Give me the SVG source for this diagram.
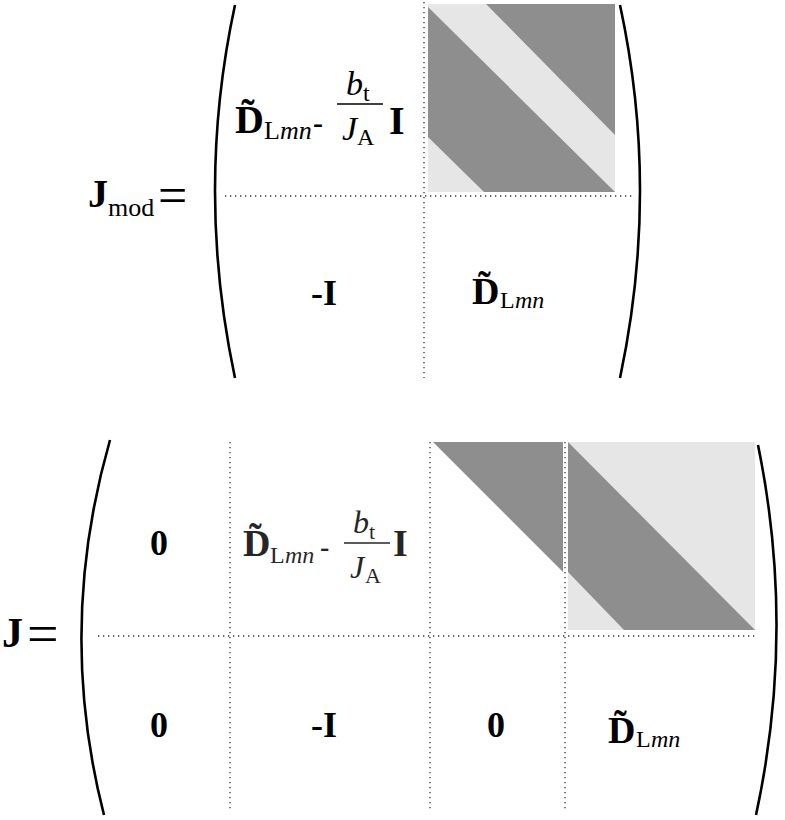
<svg xmlns="http://www.w3.org/2000/svg" width="785" height="820" viewBox="0 0 785 820">
<style>
.t{font-family:"Liberation Serif","DejaVu Serif",serif;fill:#000}
.b{font-weight:bold}
.i{font-style:italic}
.dot{stroke:#333;stroke-width:1.3;stroke-dasharray:1.3 3.7;fill:none}
.par{stroke:#000;stroke-width:2.6;fill:none}
.lt{fill:#e6e6e6}
.dk{fill:#8e8e8e}
</style>
<rect width="785" height="820" fill="#fff"/>
<g id="connectors">
<line class="dot" x1="424" y1="2" x2="424" y2="378"/>
<line class="dot" x1="225" y1="196" x2="632" y2="196"/>
<line class="dot" x1="230" y1="442" x2="230" y2="812"/>
<line class="dot" x1="430" y1="442" x2="430" y2="812"/>
<line class="dot" x1="565" y1="442" x2="565" y2="812"/>
<line class="dot" x1="98" y1="636" x2="758" y2="636"/>
</g>
<g id="parens">
<path class="par" d="M235 5 Q195 190 235 378"/>
<path class="par" d="M620 5 Q660 190 620 378"/>
<path class="par" d="M110 440 Q56 628 104 815"/>
<path class="par" d="M758 445 Q796 630 756 815"/>
</g>
<g id="block-top">
<rect class="lt" x="428" y="4" width="187" height="188"/>
<polygon class="dk" points="486,4 615,4 615,135"/>
<polygon class="dk" points="428,7 615,192 484,192 428,137"/>
</g>
<g id="block-bottom">
<polygon class="dk" points="433,442 563,442 563,572"/>
<rect class="lt" x="568" y="442" width="187" height="188"/>
<polygon class="dk" points="568,442 755,630 624,630 568,572"/>
</g>
<g id="label-jmod">
<text class="t b" x="88" y="207" font-size="40">J</text>
<text class="t" x="108" y="216" font-size="26">mod</text>
<text class="t" x="158" y="213" font-size="52">=</text>
</g>
<g id="label-j">
<text class="t b" x="2" y="647" font-size="42">J</text>
<text class="t" x="27" y="653" font-size="56">=</text>
</g>
<g id="cell-top-11">
<text class="t b" x="235" y="133" font-size="40">D&#771;</text>
<text class="t" x="264" y="139" font-size="26">L</text>
<text class="t i" x="280" y="139" font-size="26">mn</text>
<text class="t b" x="313" y="133" font-size="30">-</text>
<text class="t i" x="346" y="95" font-size="34">b</text>
<text class="t" x="363" y="101" font-size="24">t</text>
<line x1="337" y1="104" x2="383" y2="104" stroke="#000" stroke-width="1.6"/>
<text class="t i" x="342" y="140" font-size="34">J</text>
<text class="t" x="357" y="145" font-size="24">A</text>
<text class="t b" x="389" y="134" font-size="40">I</text>
</g>
<g id="cell-top-21"><text class="t b" x="311" y="305" font-size="36">-I</text></g>
<g id="cell-top-22">
<text class="t b" x="472" y="304" font-size="38">D&#771;</text>
<text class="t" x="500" y="308" font-size="24">L</text>
<text class="t i" x="515" y="308" font-size="24">mn</text>
</g>
<g id="cell-bot-11"><text class="t b" x="150" y="555" font-size="36">0</text></g>
<g id="cell-bot-12" opacity="0.85">
<text class="t b" x="243" y="556" font-size="38">D&#771;</text>
<text class="t" x="270" y="563" font-size="24">L</text>
<text class="t i" x="285" y="563" font-size="24">mn</text>
<text class="t b" x="320" y="556" font-size="28">-</text>
<text class="t i" x="353" y="533" font-size="32">b</text>
<text class="t" x="369" y="539" font-size="22">t</text>
<line x1="344" y1="543" x2="390" y2="543" stroke="#000" stroke-width="1.6"/>
<text class="t i" x="350" y="578" font-size="32">J</text>
<text class="t" x="365" y="583" font-size="22">A</text>
<text class="t b" x="393" y="556" font-size="38">I</text>
</g>
<g id="cell-bot-21"><text class="t b" x="150" y="737" font-size="36">0</text></g>
<g id="cell-bot-22"><text class="t b" x="311" y="737" font-size="36">-I</text></g>
<g id="cell-bot-23"><text class="t b" x="487" y="737" font-size="36">0</text></g>
<g id="cell-bot-24">
<text class="t b" x="608" y="743" font-size="38">D&#771;</text>
<text class="t" x="636" y="747" font-size="24">L</text>
<text class="t i" x="651" y="747" font-size="24">mn</text>
</g>
</svg>
